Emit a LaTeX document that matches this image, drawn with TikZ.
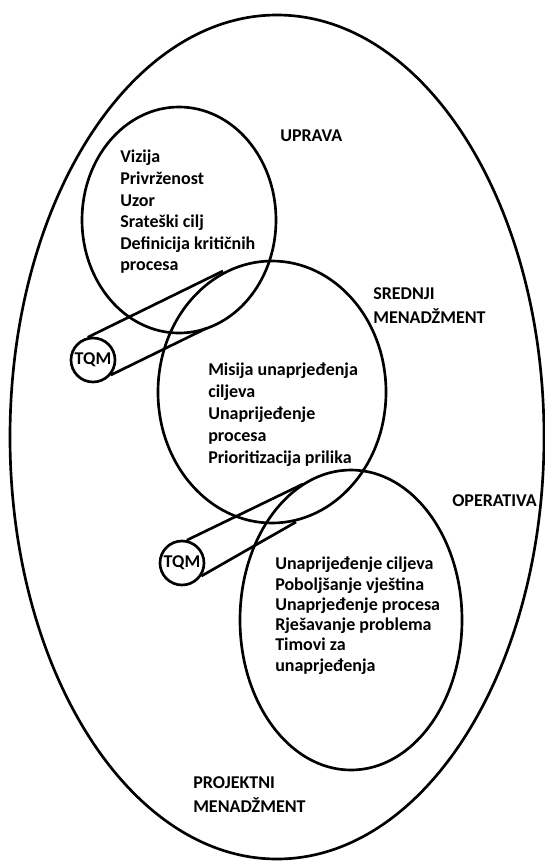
\documentclass[tikz,border=0pt]{standalone}
\usepackage{fontspec}
\setmainfont{Carlito}
\usetikzlibrary{shapes.geometric}
\tikzset{
  ring/.style={draw, ellipse, line width=2pt, inner sep=0pt},
  tqmbox/.style={draw, circle, line width=2pt, inner sep=0pt, minimum size=33pt, font=\fontsize{13.5}{16}\selectfont\bfseries},
  tube/.style={line width=2pt},
  lbl/.style={inner sep=0pt, anchor=north west, align=left, font=\fontsize{13.5}{16.2}\selectfont\bfseries},
}
\begin{document}
\begin{tikzpicture}[x=0.75pt,y=-0.75pt]
\useasboundingbox (0,0) rectangle (545,861);
% outer ellipse
\node[ring, minimum width=400.5pt, minimum height=633pt] (outer) at (277,437) {};
% upper, middle, lower ellipses
\node[ring, minimum width=145.5pt, minimum height=169.5pt] (uprava) at (179,220) {};
\node[ring, minimum width=171pt, minimum height=196.5pt] (srednji) at (272,392) {};
\node[ring, minimum width=166.5pt, minimum height=225pt] (operativa) at (351,620) {};
% TQM circles
\node[tqmbox] (tqm1) at (93,360) {TQM};
\node[tqmbox] (tqm2) at (182,563) {TQM};
% tube end points
\coordinate (t1a) at (223,271);
\coordinate (t1b) at (207,328);
\coordinate (t2a) at (303,484);
\coordinate (t2b) at (296,522);
\draw[tube] (tqm1.103) -- (t1a);
\draw[tube] (tqm1.-40) -- (t1b);
\draw[tube] (tqm2.78) -- (t2a);
\draw[tube] (tqm2.-34) -- (t2b);
% texts
\node[lbl] (txtup) at (120,150) {Vizija\\Privrženost\\Uzor\\Srateški cilj\\Definicija kritičnih\\procesa};
\node[lbl, font=\fontsize{13.5}{16.5}\selectfont\bfseries] (txtmid) at (208,363) {Misija unaprjeđenja\\ciljeva\\Unaprijeđenje\\procesa\\Prioritizacija prilika};
\node[lbl, font=\fontsize{13.5}{15.2}\selectfont\bfseries] (txtlow) at (275,557) {Unaprijeđenje ciljeva\\Poboljšanje vještina\\Unaprjeđenje procesa\\Rješavanje problema\\Timovi za\\unaprjeđenja};
\node[lbl] (lup) at (280,130) {UPRAVA};
\node[lbl, font=\fontsize{13.5}{18}\selectfont\bfseries] (lsred) at (373,287) {SREDNJI\\MENADŽMENT};
\node[lbl] (lop) at (452,494) {OPERATIVA};
\node[lbl, font=\fontsize{13.5}{18}\selectfont\bfseries] (lproj) at (193,776) {PROJEKTNI\\MENADŽMENT};
\end{tikzpicture}
\end{document}
